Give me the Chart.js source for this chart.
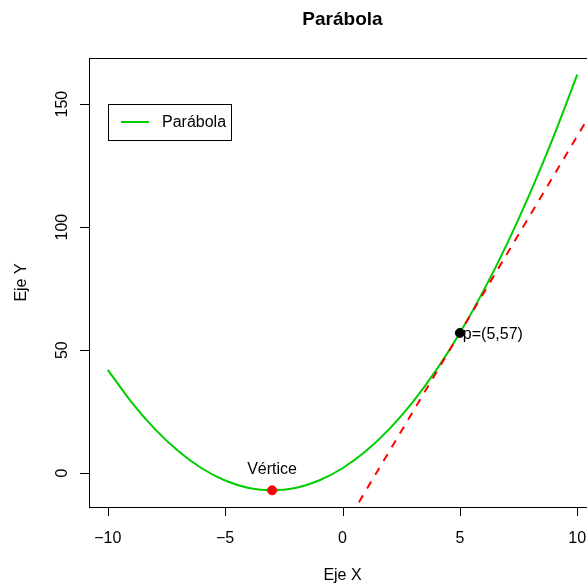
<!DOCTYPE html>
<html>
<head>
<meta charset="utf-8">
<script src="https://cdn.jsdelivr.net/npm/chart.js@4/dist/chart.umd.min.js"></script>
<style>
  html, body { margin:0; padding:0; background:#fff; overflow:hidden; }
  #wrap { width:620px; height:586px; }
</style>
</head>
<body>
<div id="wrap"><canvas id="chartParabola" width="620" height="586"></canvas></div>
<script>
// valores
const xVals = [-10,-9,-8,-7,-6,-5,-4,-3,-2,-1,0,1,2,3,4,5,6,7,8,9,10];
const yVals = [42,29,18,9,2,-3,-6,-7,-6,-3,2,9,18,29,42,57,74,93,114,137,162];
const tangX = [0, 11];
const tangY = [-23, 153];
const vertice = {x:-3, y:-7};
const puntoP = {x:5, y:57};
const xTicks = [-10,-5,0,5,10];
const yTicks = [0,50,100,150];

const GREEN = '#00CD00';
const FONT = '"Liberation Sans", Arial, sans-serif';

const rAxes = {
  id:'rAxes',
  afterDraw(chart) {
    const {ctx, chartArea:a, scales:{x, y}} = chart;
    ctx.save();
    ctx.strokeStyle = '#000';
    ctx.lineWidth = 1;
    ctx.strokeRect(a.left+0.5, a.top+0.5, a.right-a.left, a.bottom-a.top);
    ctx.fillStyle = '#000';
    ctx.font = '16px ' + FONT;
    // eje x
    ctx.beginPath();
    xTicks.forEach(t => {
      const px = Math.round(x.getPixelForValue(t))+0.5;
      ctx.moveTo(px, a.bottom); ctx.lineTo(px, a.bottom+9);
    });
    ctx.stroke();
    ctx.textAlign = 'center'; ctx.textBaseline = 'middle';
    xTicks.forEach(t => ctx.fillText(String(t).replace('-', '\u2212'), x.getPixelForValue(t), 539));
    // eje y
    ctx.beginPath();
    yTicks.forEach(t => {
      const py = Math.round(y.getPixelForValue(t))+0.5;
      ctx.moveTo(a.left, py); ctx.lineTo(a.left-9, py);
    });
    ctx.stroke();
    yTicks.forEach(t => {
      ctx.save();
      ctx.translate(63, y.getPixelForValue(t));
      ctx.rotate(-Math.PI/2);
      ctx.fillText(String(t), 0, 0);
      ctx.restore();
    });
    // titulos
    ctx.fillText('Eje X', (a.left+a.right)/2, 576);
    ctx.save();
    ctx.translate(22, (a.top+a.bottom)/2);
    ctx.rotate(-Math.PI/2);
    ctx.fillText('Eje Y', 0, 0);
    ctx.restore();
    ctx.font = 'bold 19px ' + FONT;
    ctx.fillText('Parábola', (a.left+a.right)/2, 20);
    // etiquetas de puntos
    ctx.font = '16px ' + FONT;
    ctx.fillText('Vértice', x.getPixelForValue(vertice.x), 470);
    ctx.textAlign = 'left';
    ctx.fillText('p=(5,57)', x.getPixelForValue(puntoP.x)+3, y.getPixelForValue(puntoP.y)+1.5);
    // leyenda
    ctx.strokeRect(108.5, 104.5, 123, 36);
    ctx.strokeStyle = GREEN; ctx.lineWidth = 2;
    ctx.beginPath(); ctx.moveTo(121, 122); ctx.lineTo(149, 122); ctx.stroke();
    ctx.fillText('Parábola', 162, 123);
    ctx.restore();
  }
};

new Chart(document.getElementById('chartParabola').getContext('2d'), {
  type: 'scatter',
  data: {
    datasets: [
      {
        label: 'Parábola',
        data: xVals.map((v,i) => ({x:v, y:yVals[i]})),
        showLine: true,
        borderColor: GREEN,
        borderWidth: 2,
        pointRadius: 0,
        cubicInterpolationMode: 'monotone',
        order: 3
      },
      {
        label: 'Tangente',
        data: tangX.map((v,i) => ({x:v, y:tangY[i]})),
        showLine: true,
        borderColor: '#FF0000',
        borderWidth: 2,
        borderDash: [8, 8],
        pointRadius: 0,
        order: 2
      },
      {
        label: 'Vértice',
        data: [vertice],
        backgroundColor: '#FF0000',
        borderColor: '#FF0000',
        pointRadius: 4.5,
        order: 1
      },
      {
        label: 'p',
        data: [puntoP],
        backgroundColor: '#000',
        borderColor: '#000',
        pointRadius: 4.5,
        order: 1
      }
    ]
  },
  options: {
    responsive: false,
    animation: false,
    layout: { padding: { left: 89, right: 24, top: 58, bottom: 79 } },
    plugins: { legend: { display: false }, tooltip: { enabled: false } },
    scales: {
      x: { type: 'linear', min: -10.8, max: 10.8, display: false },
      y: { type: 'linear', min: -13.76, max: 168.76, display: false }
    }
  },
  plugins: [rAxes]
});
</script>
</body>
</html>
